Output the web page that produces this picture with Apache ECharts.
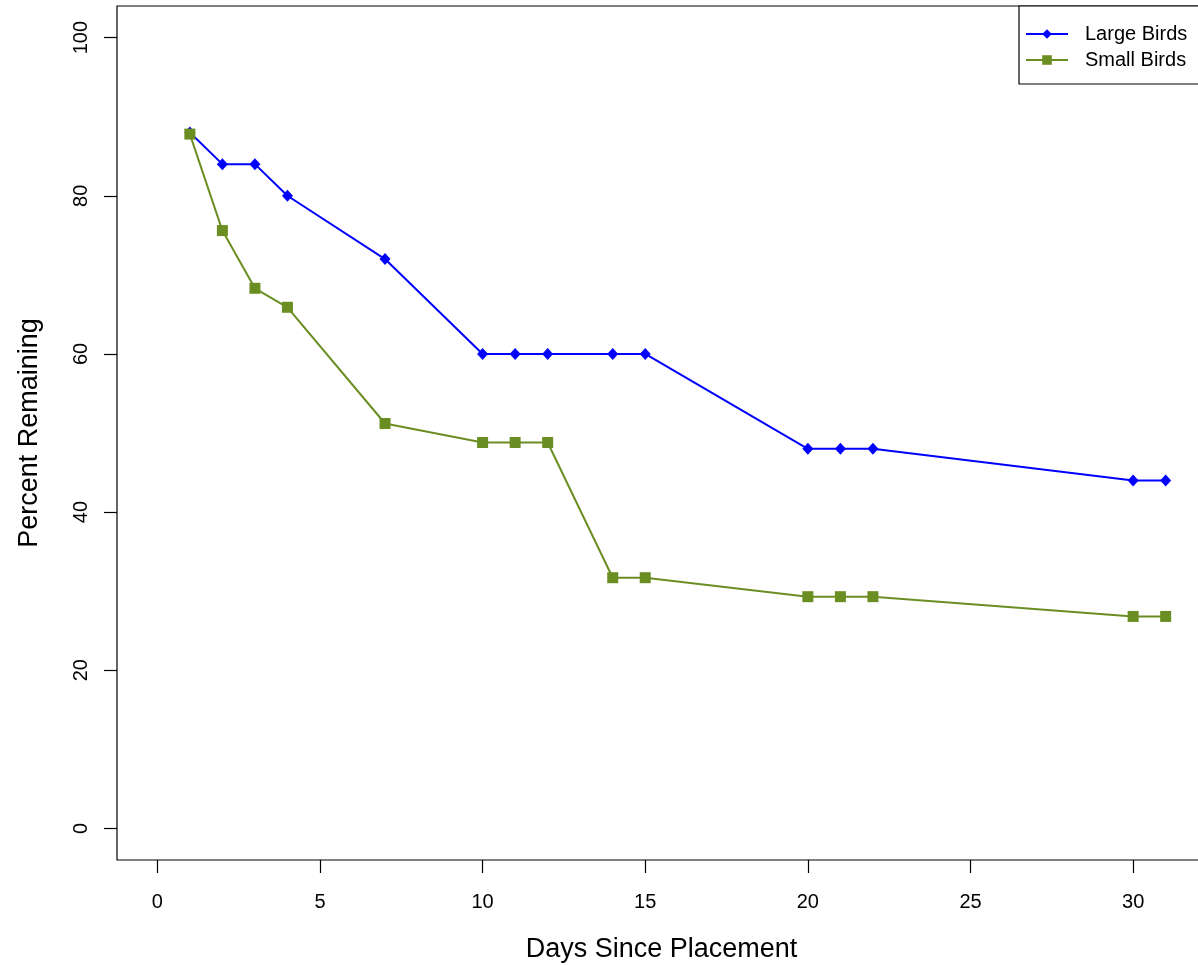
<!DOCTYPE html>
<html>
<head>
<meta charset="utf-8">
<script src="https://cdn.jsdelivr.net/npm/echarts@6/dist/echarts.min.js"></script>
<style>
  html, body { margin: 0; padding: 0; background: #fff; }
  #chart { width: 1198px; height: 965px; }
</style>
</head>
<body>
<div id="chart"></div>
<script>
// 数据：放置后的天数 与 剩余百分比
const days = [1, 2, 3, 4, 7, 10, 11, 12, 14, 15, 20, 21, 22, 30, 31]
const largeBirds = [88, 84, 84, 80, 72, 60, 60, 60, 60, 60, 48, 48, 48, 44, 44]
const smallBirds = [87.8, 75.6, 68.3, 65.9, 51.2, 48.8, 48.8, 48.8, 31.7, 31.7, 29.3, 29.3, 29.3, 26.8, 26.8]
const xTicks = [0, 5, 10, 15, 20, 25, 30]
const yTicks = [0, 20, 40, 60, 80, 100]

const FONT = 'Liberation Sans'

let pairs = (xs, ys) => xs.map((x, i) => [x, ys[i]])

let chart = echarts.init(document.getElementById('chart'))

chart.setOption({
  backgroundColor: '#fff',
  animation: false,
  textStyle: { fontFamily: FONT },
  grid: {
    left: 117, right: -8, top: 6, bottom: 105,
    show: true, borderColor: '#000', borderWidth: 1.2,
    containLabel: false,
    outerBoundsMode: 'none'
  },
  legend: {
    left: 1019, top: 6,
    orient: 'vertical',
    padding: [18, 30, 14, 6],
    itemGap: 6,
    itemWidth: 42, itemHeight: 12,
    borderColor: '#000', borderWidth: 1.2,
    backgroundColor: '#fff',
    textStyle: { fontFamily: FONT, fontSize: 20, color: '#000', lineHeight: 20, padding: [0, 0, 0, 12] },
    data: ['Large Birds', 'Small Birds']
  },
  xAxis: {
    type: 'value',
    min: -1.24, max: 32.24,
    name: 'Days Since Placement',
    nameLocation: 'middle',
    nameGap: 76,
    nameTextStyle: { fontFamily: FONT, fontSize: 27, color: '#000' },
    axisLine: { show: false, onZero: false },
    splitLine: { show: false },
    axisTick: { show: true, length: 13, customValues: xTicks, lineStyle: { color: '#000', width: 1.2 } },
    axisLabel: { customValues: xTicks, margin: 32, fontSize: 20, color: '#000', fontFamily: FONT }
  },
  yAxis: {
    type: 'value',
    min: -4, max: 104,
    name: 'Percent Remaining',
    nameLocation: 'middle',
    nameGap: 74,
    nameTextStyle: { fontFamily: FONT, fontSize: 27, color: '#000' },
    axisLine: { show: false, onZero: false },
    splitLine: { show: false },
    axisTick: { show: true, length: 13, customValues: yTicks, lineStyle: { color: '#000', width: 1.2 } },
    axisLabel: { customValues: yTicks, rotate: 90, margin: 26, fontSize: 20, color: '#000', fontFamily: FONT }
  },
  series: [
    {
      name: 'Large Birds',
      type: 'line',
      data: pairs(days, largeBirds),
      color: '#0000ff',
      symbol: 'diamond',
      symbolSize: [11, 12],
      lineStyle: { width: 2, color: '#0000ff' },
      itemStyle: { color: '#0000ff' }
    },
    {
      name: 'Small Birds',
      type: 'line',
      data: pairs(days, smallBirds),
      color: '#6b8e23',
      symbol: 'rect',
      symbolSize: 11,
      lineStyle: { width: 2, color: '#6b8e23' },
      itemStyle: { color: '#6b8e23' }
    }
  ]
})
</script>
</body>
</html>
